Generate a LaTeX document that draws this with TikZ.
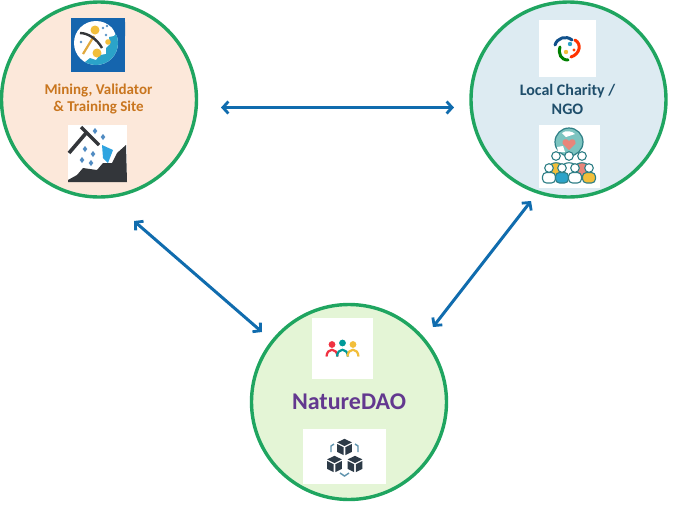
\documentclass[tikz,border=0pt]{standalone}
\usepackage{fontspec}
\setmainfont{Carlito}
\usetikzlibrary{arrows.meta}
\definecolor{ringgreen}{HTML}{1FA560}
\definecolor{arrowblue}{HTML}{106CAE}
\definecolor{fillpeach}{HTML}{FCE8DA}
\definecolor{fillblue}{HTML}{DDEBF2}
\definecolor{fillgreen}{HTML}{E4F5D6}
\definecolor{txtorange}{HTML}{C9761F}
\definecolor{txtnavy}{HTML}{1F4E6B}
\definecolor{txtpurple}{HTML}{63388F}
\definecolor{iconblue}{HTML}{1565AE}
\definecolor{iconteal}{HTML}{2BA3C9}
\definecolor{coin}{HTML}{F2BE3A}
\definecolor{dropblue}{HTML}{2FA4E0}
\definecolor{rock}{HTML}{33363A}
\definecolor{cubedark}{HTML}{2C3A47}
\definecolor{cubearrow}{HTML}{5F93AD}
\definecolor{globeteal}{HTML}{7CC4C0}
\definecolor{folkline}{HTML}{2F7F86}
\definecolor{heartred}{HTML}{E8857A}
\tikzset{
  ring/.style={circle,draw=ringgreen,line width=3.4pt,minimum size=195pt,inner sep=0pt},
  iconbox/.style={fill=white,draw=none},
  link/.style={draw=arrowblue,line width=3pt,{Straight Barb[length=5.5pt,width=12pt,line width=2.8pt]}-{Straight Barb[length=5.5pt,width=12pt,line width=2.8pt]}},
  caption/.style={font=\bfseries\fontsize{15pt}{17.5pt}\selectfont,align=center,inner sep=0pt},
  folk/.style={draw=folkline,line width=1.1pt},
}
\newcommand{\cubeicon}[2]{%
  \begin{scope}[shift={(#1,#2)}]
    \fill[cubedark] (0,-8.2)--(7.4,-4.6)--(0,-1)--(-7.4,-4.6)--cycle;
    \fill[cubedark] (-7.4,-3)--(-0.8,0.3)--(-0.8,8.2)--(-7.4,4.8)--cycle;
    \fill[cubedark] (7.4,-3)--(0.8,0.3)--(0.8,8.2)--(7.4,4.8)--cycle;
  \end{scope}}
\begin{document}
\begin{tikzpicture}[x=1pt,y=-1pt]
\useasboundingbox (0,0) rectangle (673,507);
\fill[white] (0,0) rectangle (673,507);
% rings
\node[ring,fill=fillpeach] (mine) at (99,99.5) {};
\node[ring,fill=fillblue] (ngo) at (568.5,99.5) {};
\node[ring,fill=fillgreen] (dao) at (349,402) {};
% icon: mining badge
\fill[iconblue] (71,18) rectangle (125,72);
\begin{scope}
  \clip (96,43) circle (22);
  \fill[white] (70,18) rectangle (125,70);
  \fill[iconteal] (119,30)--(114,36)--(109,37)--(110,44)--(106,48)--(106,54)--(100,55)--(96,60)--(90,58)--(85,62)--(83,70)--(122,70)--cycle;
\end{scope}
\fill[iconblue] (110,22)--(125,22)--(125,36)--(116,35)--cycle;
\fill[coin] (95,30) circle (4.5);
\fill[coin] (97,53) circle (4.5);
\fill[coin] (108,42) circle (2.8);
\draw[coin!65!brown,line width=2.2pt] (83,54)--(94,36);
\draw[rock,line width=2.4pt] (80,33) .. controls (88,33) and (97,39) .. (102,48);
\fill[iconblue!70] (103,28) circle (1.4) (107,26) circle (1.4) (106,35) circle (1.4) (81,42) circle (1.3);
% icon: pickaxe and rock
\node[iconbox,minimum width=59pt,minimum height=57pt,inner sep=0pt] (pickbox) at (97.5,153.5) {};
\fill[rock] (68,180)--(77,175)--(83,168)--(97,170)--(103,163)--(112,163)--(117,153)--(126,145)--(127,182)--(68,182)--cycle;
\draw[rock,line width=3.2pt] (81,127)--(99,145);
\draw[rock,line width=3.6pt] (69,153)--(87,132);
\fill[dropblue] (102,145)--(113,150)--(108,163)--(103,158)--cycle;
\foreach \p in {(95,131),(103,137),(85,149),(93,154),(82,160),(91,163)}{
  \fill[iconblue!75] \p +(0,-3)--+(2.3,0)--+(0,3)--+(-2.3,0)--cycle;}
% icon: charity logo
\node[iconbox,minimum width=57pt,minimum height=57pt,inner sep=0pt] (logobox) at (567.5,48.5) {};
\draw[iconblue!80!black,line width=3pt,line cap=round] (555,45) .. controls (557,38) and (566,35) .. (572,40);
\draw[red!60!orange,line width=3pt,line cap=round] (575,40) .. controls (582,44) and (580,54) .. (571,57);
\draw[green!50!black,line width=3pt,line cap=round] (568,60) .. controls (561,60) and (558,54) .. (560,47);
\fill[iconteal] (570,44) circle (2.2);
\fill[coin] (566,52) circle (2.2);
\fill[red!50!orange] (574,50) circle (1.6);
% icon: people and globe
\node[iconbox,minimum width=61pt,minimum height=63pt,inner sep=0pt] (crowdbox) at (569.5,156.5) {};
\draw[fill=globeteal,draw=folkline,line width=1.2pt] (569,142) circle (14);
\fill[white] (562,133) .. controls (566,130) and (572,131) .. (575,134) -- (566,137) -- cycle;
\fill[white] (557,147) -- (563,146) -- (565,152) -- (558,152) -- cycle;
\fill[heartred] (569,150) -- (562.5,143.5) .. controls (561.5,139) and (567,138) .. (569,141) .. controls (571,138) and (576.5,139) .. (575.5,143.5) -- cycle;
\foreach \x/\c in {556/coin,569/white,582/heartred}{
  \fill[\c,folk] (\x-7,176) -- (\x-7,168) .. controls (\x-7,161) and (\x+7,161) .. (\x+7,168) -- (\x+7,176) -- cycle;
  \fill[white,folk] (\x,156) circle (4.3);}
\foreach \x/\c in {549/white,562/iconteal,575/white,589/coin}{
  \fill[\c,folk,rounded corners=4pt] (\x-6.5,183) rectangle (\x+6.5,172.5);
  \fill[white,folk] (\x,168) circle (4.3);}
% icon: three people
\node[iconbox,minimum width=61pt,minimum height=61pt,inner sep=0pt] (teambox) at (342.5,348.5) {};
\foreach \x/\yy/\c in {332/344.5/red!70!purple!80,342.5/343/teal!80!cyan,353/344.5/coin}{
  \fill[\c] (\x,\yy) circle (3.4);
  \draw[\c,line width=2.2pt] (\x-5.5,356.5) .. controls (\x-5,347.5) and (\x+5,347.5) .. (\x+5.5,356.5);}
% icon: cubes
\node[iconbox,minimum width=83pt,minimum height=55pt,inner sep=0pt] (cubebox) at (344.5,456.5) {};
\cubeicon{344.5}{447}
\cubeicon{334.5}{464}
\cubeicon{355}{464}
\draw[cubearrow,line width=1.4pt] (331,452)--(331,446)--(334,444);
\draw[cubearrow,line width=1.4pt] (358,452)--(358,446)--(355,444);
\draw[cubearrow,line width=1.4pt] (340,473)--(344.5,476)--(349,473);
% captions
\node[caption,text=txtorange] (minetext) at (98.5,99) {Mining, Validator\\\& Training Site};
\node[caption,font=\bfseries\fontsize{16pt}{19pt}\selectfont,text=txtnavy] (ngotext) at (567.5,99.5) {Local Charity /\\NGO};
\node[font=\bfseries\fontsize{24pt}{26pt}\selectfont,text=txtpurple,inner sep=0pt] (daotext) at (349,401.5) {NatureDAO};
% connectors
\coordinate (ma) at (221,107.5);
\coordinate (na) at (454,107.5);
\coordinate (mb) at (134,221);
\coordinate (db) at (262,332);
\coordinate (nc) at (531,201);
\coordinate (dc) at (433,327);
\draw[link] (ma) -- (na);
\draw[link] (mb) -- (db);
\draw[link] (nc) -- (dc);
\end{tikzpicture}
\end{document}
